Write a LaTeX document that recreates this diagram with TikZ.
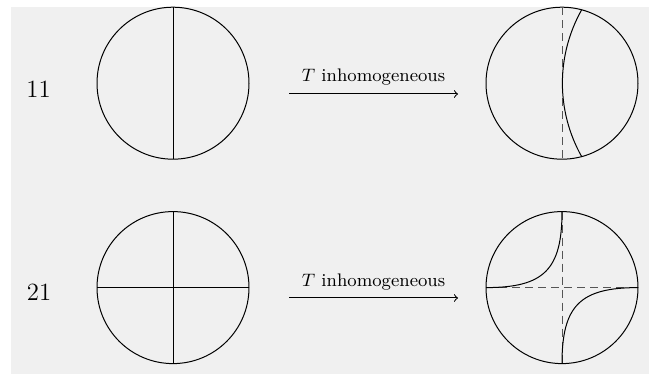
\documentclass[tikz,border=0pt]{standalone}
\definecolor{bg}{HTML}{F0F0F0}
\definecolor{dashgray}{HTML}{555555}
\begin{document}
\begin{tikzpicture}[x=0.5pt,y=-0.5pt,
  disc/.style={circle,draw,line width=0.5pt,minimum size=76pt,inner sep=0pt,outer sep=0pt},
  solidline/.style={line width=0.5pt},
  dashline/.style={draw=dashgray,line width=0.5pt,dash pattern=on 4pt off 2.5pt},
  rowlabel/.style={anchor=base,font=\fontsize{12.4}{14}\selectfont},
  arrlabel/.style={anchor=base,yshift=6pt,font=\fontsize{9.1}{11}\selectfont},
  maparrow/.style={->,line width=0.5pt}]
\useasboundingbox (0,0) rectangle (649,374);
\fill[bg] (11,7) rectangle (649,374);

% row 1
\node[rowlabel] (l11) at (38.5,98) {11};
\node[disc] (c1) at (173,83.2) {};
\node[disc] (c2) at (562,83.2) {};
\draw[solidline] (c1.north) -- (c1.south);
\draw[dashline] (c2.north) -- (c2.south);
\draw[solidline] (c2.75) .. controls +(-25.7,45.7) and +(-25.7,-45.7) .. (c2.-75);
\coordinate (a1s) at (289,94);
\coordinate (a1e) at (458,94);
\draw[maparrow] (a1s) -- (a1e) node[midway,arrlabel] (t1) {$T$ inhomogeneous};

% row 2
\node[rowlabel] (l21) at (39,300.5) {21};
\node[disc] (c3) at (173,287.6) {};
\node[disc] (c4) at (562,287.6) {};
\draw[solidline] (c3.north) -- (c3.south);
\draw[solidline] (c3.west) -- (c3.east);
\draw[dashline] (c4.north) -- (c4.south);
\draw[dashline] (c4.west) -- (c4.east);
\draw[solidline] (c4.north) .. controls +(0,58) and +(58,0) .. (c4.west);
\draw[solidline] (c4.south) .. controls +(0,-58) and +(-58,0) .. (c4.east);
\coordinate (a2s) at (289,298);
\coordinate (a2e) at (458,298);
\draw[maparrow] (a2s) -- (a2e) node[midway,arrlabel] (t2) {$T$ inhomogeneous};
\end{tikzpicture}
\end{document}
